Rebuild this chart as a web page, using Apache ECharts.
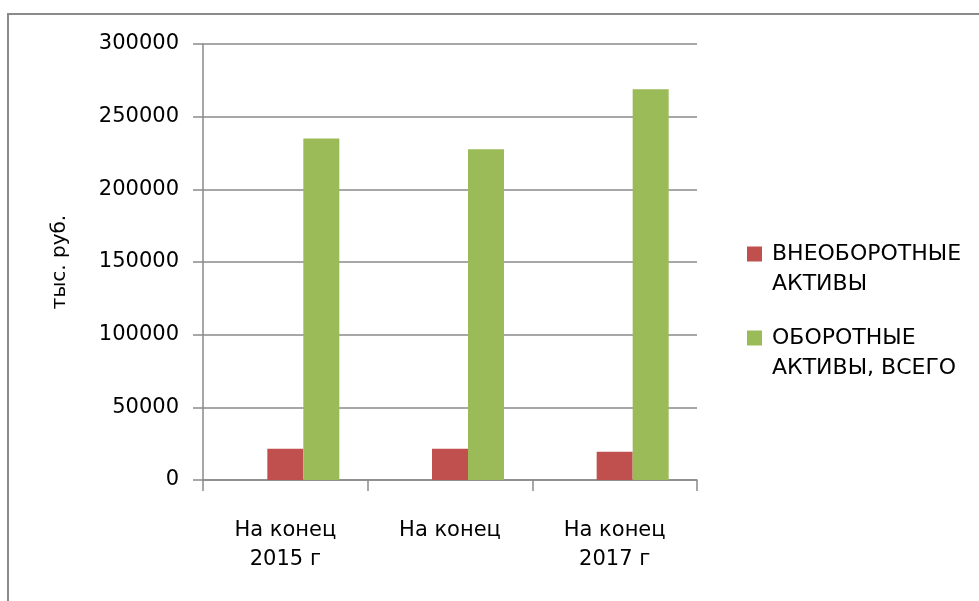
<!DOCTYPE html>
<html>
<head>
<meta charset="utf-8">
<script src="https://cdn.jsdelivr.net/npm/echarts@6/dist/echarts.min.js"></script>
<style>
	html, body { margin: 0; padding: 0; background: #fff; }
	#chart { width: 979px; height: 601px; }
</style>
</head>
<body>
<div id="chart"></div>
<script>
var myChart = echarts.init(document.getElementById("chart"));

// данные
var categories = ["На конец\n2015 г", "На конец", "На конец\n2017 г"];
var emptySeries = [null, null, null];
var nonCurrent = [21500, 21500, 19500];
var current = [235000, 227500, 268800];
var seriesNames = ["ВНЕОБОРОТНЫЕ\nАКТИВЫ", "ОБОРОТНЫЕ\nАКТИВЫ, ВСЕГО"];
var yTicks = [0, 50000, 100000, 150000, 200000, 250000, 300000];

var colors = ["#C0504D", "#9BBB59"];
var font = "DejaVu Sans";

var option = {
	animation: false,
	graphic: [
		{
			type: "rect",
			shape: { x: 8, y: 14, width: 1000, height: 700 },
			style: { fill: "none", stroke: "#8a8a8a", lineWidth: 2 },
			silent: true
		}
	],
	grid: {
		left: 203,
		right: 282,
		top: 44,
		bottom: 121
	},
	legend: {
		orient: "vertical",
		left: 737,
		top: 234,
		icon: "none",
		itemWidth: 0,
		itemHeight: 14,
		itemGap: 24,
		data: seriesNames,
		formatter: function (name) {
			var idx = seriesNames.indexOf(name);
			var lines = name.split("\n");
			return "{sq" + idx + "|}{t|" + lines[0] + "}\n{gap|}{t|" + lines[1] + "}";
		},
		textStyle: {
			fontFamily: font,
			fontSize: 22,
			color: "#000",
			lineHeight: 30,
			rich: {
				sq0: { width: 15, height: 15, backgroundColor: colors[0] },
				sq1: { width: 15, height: 15, backgroundColor: colors[1] },
				gap: { width: 15 },
				t: { fontFamily: font, fontSize: 22, color: "#000", padding: [0, 0, 0, 10], lineHeight: 30 }
			}
		}
	},
	xAxis: {
		type: "category",
		data: categories,
		axisLine: { lineStyle: { color: "#8a8a8a", width: 1.5 } },
		axisTick: { show: true, length: 11, lineStyle: { color: "#8a8a8a", width: 1.5 } },
		axisLabel: {
			fontFamily: font,
			fontSize: 21,
			color: "#000",
			lineHeight: 29,
			margin: 36
		}
	},
	yAxis: {
		type: "value",
		min: yTicks[0],
		max: yTicks[yTicks.length - 1],
		interval: yTicks[1] - yTicks[0],
		name: "тыс. руб.",
		nameLocation: "middle",
		nameGap: 133,
		nameTextStyle: { fontFamily: font, fontSize: 20, color: "#000" },
		axisLine: { show: true, lineStyle: { color: "#8a8a8a", width: 1.5 } },
		axisTick: { show: true, length: 10, lineStyle: { color: "#8a8a8a", width: 1.5 } },
		splitLine: { lineStyle: { color: "#8a8a8a", width: 1.5 } },
		axisLabel: {
			fontFamily: font,
			fontSize: 21,
			color: "#000",
			margin: 24,
			formatter: function (v) {
				return String(v);
			}
		}
	},
	series: [
		{
			name: "",
			type: "bar",
			barWidth: 36,
			barGap: "0%",
			data: emptySeries
		},
		{
			name: seriesNames[0],
			type: "bar",
			barWidth: 36,
			barGap: "0%",
			itemStyle: { color: colors[0] },
			data: nonCurrent
		},
		{
			name: seriesNames[1],
			type: "bar",
			barWidth: 36,
			barGap: "0%",
			itemStyle: { color: colors[1] },
			data: current
		}
	]
};

myChart.setOption(option);
</script>
</body>
</html>
